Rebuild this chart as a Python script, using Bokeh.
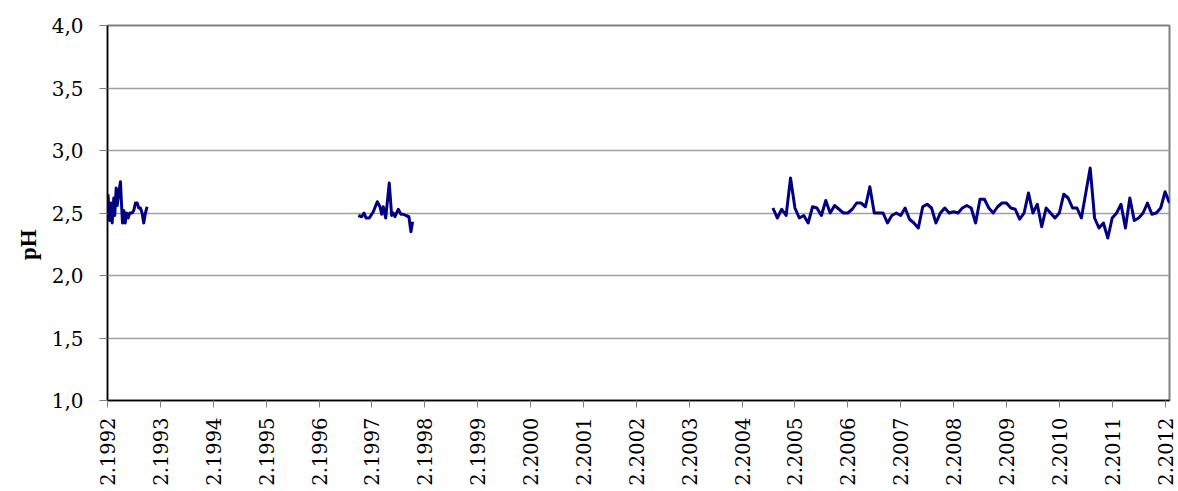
import math
from bokeh.plotting import figure
from bokeh.models import Range1d, FixedTicker
from bokeh.embed import file_html
from bokeh.resources import INLINE

# ---- axis definitions ----
tick_years = list(range(1992, 2013))
tick_labels = [f"2.{y}" for y in tick_years]          # month 2 of each year
y_ticks = [1.0, 1.5, 2.0, 2.5, 3.0, 3.5, 4.0]
y_tick_labels = ["1,0", "1,5", "2,0", "2,5", "3,0", "3,5", "4,0"]
y_title = "pH"

# ---- data: x = months since February 1992 ----
seg1_months = [0.11, 0.45, 0.84, 1.06, 1.43, 1.65, 1.97, 2.20, 2.56, 2.94, 3.17,
               3.40, 3.69, 4.01, 4.30, 4.69, 5.05, 5.59, 5.96, 6.34, 6.73, 7.09,
               7.47, 7.85, 8.22, 8.61, 8.99]
seg1_ph = [2.65, 2.44, 2.58, 2.42, 2.62, 2.48, 2.70, 2.56, 2.66, 2.75, 2.58,
           2.42, 2.52, 2.42, 2.50, 2.46, 2.50, 2.50, 2.52, 2.58, 2.58, 2.54,
           2.54, 2.50, 2.42, 2.50, 2.55]

seg2_months = [56.92, 57.69, 58.21, 58.66, 59.41, 60.32, 61.22, 61.83, 62.22, 62.58,
               63.13, 63.94, 64.48, 64.85, 65.23, 65.98, 66.59, 67.11, 67.72, 68.40,
               68.86, 69.24]
seg2_ph = [2.48, 2.47, 2.50, 2.46, 2.46, 2.51, 2.59, 2.55, 2.49, 2.55,
           2.46, 2.74, 2.48, 2.50, 2.47, 2.53, 2.49, 2.49, 2.48, 2.47,
           2.35, 2.43]

seg3_start = (2004, 9)   # monthly samples from September 2004
seg3_ph = [2.54, 2.46, 2.53, 2.48, 2.78, 2.54, 2.46, 2.48, 2.42, 2.55, 2.54,
           2.48, 2.60, 2.50, 2.56, 2.53, 2.50, 2.50, 2.53, 2.58, 2.58, 2.55,
           2.71, 2.50, 2.50, 2.50, 2.42, 2.48, 2.50, 2.48, 2.54,
           2.45, 2.42, 2.38, 2.55, 2.57, 2.54, 2.42, 2.50, 2.54, 2.50,
           2.51, 2.50, 2.54, 2.56, 2.54, 2.42, 2.61, 2.61, 2.54, 2.50,
           2.55, 2.58, 2.58, 2.54, 2.53, 2.45, 2.50, 2.66, 2.50,
           2.57, 2.39, 2.54, 2.50, 2.46, 2.50, 2.65, 2.62, 2.54, 2.54,
           2.46, 2.66, 2.86, 2.46, 2.38, 2.42, 2.30, 2.46, 2.50, 2.57,
           2.38, 2.62, 2.44, 2.46, 2.50, 2.58, 2.49, 2.50, 2.54, 2.67, 2.58]

seg3_offset = (seg3_start[0] - 1992) * 12 + (seg3_start[1] - 2)
seg3_months = [seg3_offset + i for i in range(len(seg3_ph))]
tick_months = [(y - 1992) * 12 for y in tick_years]

FONT = "DejaVu Serif"
LINE = "#000080"

p = figure(width=1178, height=491, output_backend="svg", toolbar_location=None,
           x_range=Range1d(0, 241), y_range=Range1d(1.0, 4.0),
           min_border_left=107, min_border_top=25, min_border_right=9,
           min_border_bottom=91)
p.background_fill_color = "white"
p.border_fill_color = "white"
p.outline_line_color = "#808080"
p.outline_line_width = 2

for xs, ys in ((seg1_months, seg1_ph), (seg2_months, seg2_ph), (seg3_months, seg3_ph)):
    p.line(xs, ys, line_color=LINE, line_width=3, line_join="round")

# x axis
xa = p.xaxis[0]
xa.ticker = FixedTicker(ticks=tick_months)
xa.major_label_overrides = dict(zip(tick_months, tick_labels))
xa.major_label_orientation = math.pi / 2
xa.major_label_text_font = FONT
xa.major_label_text_font_size = "19.5px"
xa.major_label_text_color = "black"
xa.major_label_standoff = 10
xa.major_tick_out = 7
xa.major_tick_in = 0
xa.minor_tick_out = 0
xa.minor_tick_in = 0
xa.major_tick_line_color = "#808080"
xa.axis_line_color = "black"
xa.axis_line_width = 1.5

# y axis
ya = p.yaxis[0]
ya.ticker = FixedTicker(ticks=y_ticks)
ya.major_label_overrides = dict(zip(y_ticks, y_tick_labels))
ya.major_label_text_font = FONT
ya.major_label_text_font_size = "20px"
ya.major_label_text_color = "black"
ya.major_label_standoff = 16
ya.major_tick_out = 8
ya.major_tick_in = 0
ya.minor_tick_out = 0
ya.minor_tick_in = 0
ya.major_tick_line_color = "#808080"
ya.axis_line_color = "black"
ya.axis_line_width = 1.5
# title sits a little below the frame centre, as in the reference
ya.axis_label = y_title + "\u00a0" * 11
ya.axis_label_text_font = "Liberation Serif"
ya.axis_label_text_font_style = "bold"
ya.axis_label_text_font_size = "23px"
ya.axis_label_text_color = "black"
ya.axis_label_standoff = 8

p.xgrid.visible = False
p.ygrid.ticker = FixedTicker(ticks=y_ticks[1:-1])
p.ygrid.grid_line_color = "#a0a0a0"
p.ygrid.grid_line_width = 1.3

open("out.html", "w").write(file_html(p, INLINE))
